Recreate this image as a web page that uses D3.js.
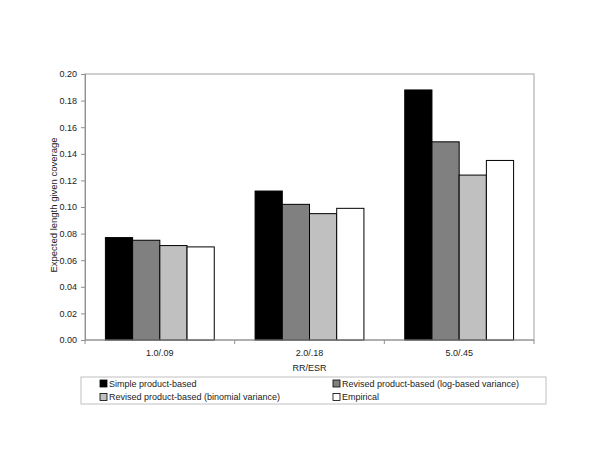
<!DOCTYPE html>
<html>
<head>
<meta charset="utf-8">
<script src="https://cdn.jsdelivr.net/npm/d3@7"></script>
<style>
  body { margin: 0; background: #fff; }
  text { font-family: "Liberation Sans", Arial, sans-serif; fill: #222; }
</style>
</head>
<body>
<div id="chart"></div>
<script>
const categories = ['1.0/.09', '2.0/.18', '5.0/.45'];
const seriesNames = [
  'Simple product-based',
  'Revised product-based (log-based variance)',
  'Revised product-based (binomial variance)',
  'Empirical'
];
const seriesColors = ['#000000', '#808080', '#c0c0c0', '#ffffff'];
const seriesValues = [
  [0.077, 0.112, 0.188],
  [0.075, 0.102, 0.149],
  [0.071, 0.095, 0.124],
  [0.070, 0.099, 0.135]
];
const yTicks = [0, 0.02, 0.04, 0.06, 0.08, 0.10, 0.12, 0.14, 0.16, 0.18, 0.20];

const W = 600, H = 464;
const margin = { left: 85, top: 74, right: 66, bottom: 124 };
const chartWidth = W - margin.left - margin.right;
const chartHeight = H - margin.top - margin.bottom;

const svg = d3.select('#chart').append('svg')
  .attr('width', W)
  .attr('height', H);

const g = svg.append('g')
  .attr('transform', `translate(${margin.left},${margin.top})`);

const x = d3.scaleBand()
  .domain(categories)
  .range([0, chartWidth])
  .paddingInner(0)
  .paddingOuter(0);

// gap between groups is 150% of a bar width
const barBand = x.bandwidth() / (4 + 1.5);
const xSeries = d3.scaleBand()
  .domain(d3.range(seriesNames.length))
  .range([barBand * 0.75, x.bandwidth() - barBand * 0.75]);

const y = d3.scaleLinear()
  .domain([0, 0.2])
  .range([chartHeight, 0]);

// plot area border
g.append('rect')
  .attr('x', 0).attr('y', 0)
  .attr('width', chartWidth).attr('height', chartHeight)
  .style('fill', 'none')
  .style('stroke', '#c0c0c0')
  .style('stroke-width', '1.5px');

// bars
seriesValues.forEach((vals, si) => {
  g.append('g').classed('series', true)
    .selectAll('rect')
    .data(vals)
    .enter().append('rect')
      .attr('x', (d, i) => x(categories[i]) + xSeries(si))
      .attr('y', d => y(d))
      .attr('width', xSeries.bandwidth())
      .attr('height', d => chartHeight - y(d))
      .style('fill', seriesColors[si])
      .style('stroke', '#000')
      .style('stroke-width', '1px');
});

// y axis
const axisY = d3.axisLeft(y)
  .tickValues(yTicks)
  .tickFormat(d3.format('.2f'))
  .tickSize(4)
  .tickPadding(4);
const gy = g.append('g').classed('axis y', true).call(axisY);
gy.select('.domain').style('stroke', '#909090');
gy.selectAll('.tick line').style('stroke', '#909090');
gy.selectAll('text').style('font-size', '9px').style('fill', '#222');

// x axis
const gx = g.append('g')
  .attr('transform', `translate(0,${chartHeight})`)
  .classed('axis x', true);
gx.append('line')
  .attr('x1', 0).attr('x2', chartWidth)
  .style('stroke', '#909090');
gx.selectAll('line.tk')
  .data(d3.range(categories.length + 1))
  .enter().append('line')
    .attr('class', 'tk')
    .attr('x1', i => i * x.bandwidth()).attr('x2', i => i * x.bandwidth())
    .attr('y1', 0).attr('y2', 4)
    .style('stroke', '#909090');
gx.selectAll('text')
  .data(categories)
  .enter().append('text')
    .attr('x', d => x(d) + x.bandwidth() / 2)
    .attr('y', 16)
    .attr('text-anchor', 'middle')
    .style('font-size', '9px')
    .text(d => d);

// axis titles
svg.append('text')
  .attr('x', margin.left + chartWidth / 2)
  .attr('y', 371)
  .attr('text-anchor', 'middle')
  .style('font-size', '9px')
  .text('RR/ESR');

svg.append('text')
  .attr('transform', `translate(57,${margin.top + chartHeight / 2 - 2}) rotate(-90)`)
  .attr('text-anchor', 'middle')
  .style('font-size', '9.5px')
  .text('Expected length given coverage');

// legend
const legend = svg.append('g').attr('transform', 'translate(81,377)');
legend.append('rect')
  .attr('width', 465).attr('height', 27)
  .style('fill', '#fff')
  .style('stroke', '#c0c0c0')
  .style('stroke-width', '1px');
const colX = [19, 252];
seriesNames.forEach((name, i) => {
  const item = legend.append('g')
    .attr('transform', `translate(${colX[i % 2]},${i < 2 ? 6.5 : 20})`);
  item.append('rect')
    .attr('x', 0).attr('y', -3.5)
    .attr('width', 7).attr('height', 7)
    .style('fill', seriesColors[i])
    .style('stroke', '#000')
    .style('stroke-width', '0.8px');
  item.append('text')
    .attr('x', 9).attr('y', 3.3)
    .style('font-size', '9px')
    .text(name);
});
</script>
</body>
</html>
